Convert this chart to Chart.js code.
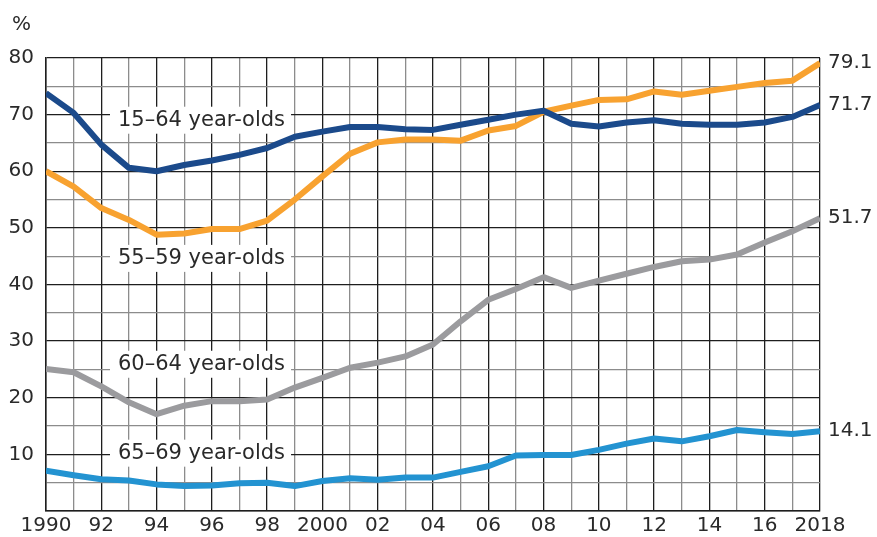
<!DOCTYPE html>
<html>
<head>
<meta charset="utf-8">
<script src="https://cdn.jsdelivr.net/npm/chart.js@4/dist/chart.umd.min.js"></script>
<style>
  html, body { margin: 0; padding: 0; background: #fff; }
  #wrap { width: 877px; height: 537px; position: relative; }
</style>
</head>
<body>
<div id="wrap"><canvas id="chart"></canvas></div>
<script>
// Employment rates by age group, 1990-2018 (%)
const years = [1990, 1991, 1992, 1993, 1994, 1995, 1996, 1997, 1998, 1999,
    2000, 2001, 2002, 2003, 2004, 2005, 2006, 2007, 2008, 2009,
    2010, 2011, 2012, 2013, 2014, 2015, 2016, 2017, 2018];

const age15to64 = [73.8, 70.3, 64.7, 60.6, 60.0, 61.1, 61.9, 62.9, 64.1, 66.1,
    67.0, 67.8, 67.8, 67.4, 67.3, 68.2, 69.1, 70.0, 70.7, 68.4,
    67.9, 68.6, 69.0, 68.4, 68.2, 68.2, 68.6, 69.6, 71.7];

const age55to59 = [60.0, 57.3, 53.5, 51.4, 48.8, 49.0, 49.8, 49.8, 51.3, 55.0,
    59.1, 63.1, 65.1, 65.6, 65.6, 65.4, 67.2, 68.0, 70.5, 71.6,
    72.6, 72.7, 74.1, 73.5, 74.2, 74.9, 75.6, 76.0, 79.1];

const age60to64 = [25.1, 24.5, 22.0, 19.2, 17.1, 18.6, 19.4, 19.4, 19.7, 21.8,
    23.5, 25.3, 26.2, 27.3, 29.4, 33.5, 37.3, 39.2, 41.3, 39.4,
    40.7, 41.9, 43.1, 44.1, 44.4, 45.3, 47.4, 49.4, 51.7];

const age65to69 = [7.1, 6.3, 5.6, 5.4, 4.7, 4.4, 4.5, 4.9, 5.0, 4.4,
    5.3, 5.8, 5.5, 5.9, 5.9, 6.9, 7.9, 9.8, 9.9, 9.9,
    10.8, 11.9, 12.8, 12.3, 13.2, 14.3, 13.9, 13.6, 14.1];

const seriesNames = ['15\u201364 year-olds', '55\u201359 year-olds', '60\u201364 year-olds', '65\u201369 year-olds'];
const xTickLabels = {1990: '1990', 1992: '92', 1994: '94', 1996: '96', 1998: '98', 2000: '2000',
    2002: '02', 2004: '04', 2006: '06', 2008: '08', 2010: '10', 2012: '12', 2014: '14', 2016: '16', 2018: '2018'};
const yTickLabels = [10, 20, 30, 40, 50, 60, 70, 80];

const FONT = '"DejaVu Sans", "Noto Sans", sans-serif';
const TEXT = '#2a2a2a';
const colors = ['#1b4a8b', '#f8a230', '#9b9b9e', '#2393d1'];

const toPoints = arr => arr.map((v, i) => ({ x: years[i], y: v }));

// name labels inside the plot (anchor x year, y value), and end value labels
const annotations = {
    id: 'annotations',
    beforeDatasetsDraw(chart) {
        const { ctx, scales: { x, y } } = chart;
        const spots = [
            { name: seriesNames[0], yv: 69.1 },
            { name: seriesNames[1], yv: 44.7 },
            { name: seriesNames[2], yv: 26.0 },
            { name: seriesNames[3], yv: 10.3 }
        ];
        ctx.save();
        ctx.font = '21px ' + FONT;
        ctx.textBaseline = 'middle';
        spots.forEach(s => {
            const px = x.getPixelForValue(1990) + 72;
            const py = y.getPixelForValue(s.yv);
            const w = ctx.measureText(s.name).width;
            ctx.fillStyle = '#fff';
            ctx.fillRect(px - 8, py - 13, w + 14, 27);
            ctx.fillStyle = TEXT;
            ctx.fillText(s.name, px, py + 1);
        });
        ctx.restore();
    },
    afterDraw(chart) {
        const { ctx, scales: { x, y } } = chart;
        ctx.save();
        ctx.font = '20px ' + FONT;
        ctx.fillStyle = TEXT;
        ctx.textBaseline = 'middle';
        [age55to59, age15to64, age60to64, age65to69].forEach(arr => {
            const v = arr[arr.length - 1];
            ctx.fillText(v.toFixed(1), x.right + 8, y.getPixelForValue(v));
        });
        ctx.fillText('%', 12, 25);
        ctx.restore();
    }
};

const ctx = document.getElementById('chart').getContext('2d');
new Chart(ctx, {
    type: 'line',
    data: {
        datasets: [
            { label: seriesNames[0], data: toPoints(age15to64), borderColor: colors[0] },
            { label: seriesNames[1], data: toPoints(age55to59), borderColor: colors[1] },
            { label: seriesNames[2], data: toPoints(age60to64), borderColor: colors[2] },
            { label: seriesNames[3], data: toPoints(age65to69), borderColor: colors[3] }
        ]
    },
    options: {
        responsive: true,
        maintainAspectRatio: false,
        animation: false,
        layout: { padding: { top: 58, right: 57, left: 0, bottom: 0 } },
        elements: {
            line: { borderWidth: 6, tension: 0, borderJoinStyle: 'round', borderCapStyle: 'butt' },
            point: { radius: 0, hoverRadius: 0 }
        },
        plugins: {
            legend: { display: false },
            tooltip: { enabled: false }
        },
        scales: {
            x: {
                type: 'linear',
                min: 1990,
                max: 2018,
                afterFit: s => { s.height = 26; },
                afterBuildTicks: s => { s.ticks = years.map(v => ({ value: v })); },
                ticks: {
                    autoSkip: false,
                    maxRotation: 0,
                    padding: 3,
                    color: TEXT,
                    font: { family: FONT, size: 20 },
                    callback: v => xTickLabels[v] || ''
                },
                grid: {
                    drawTicks: false,
                    lineWidth: 1.3,
                    color: c => (c.tick && c.tick.value % 2 === 0) ? '#1e1e1e' : '#8c8c8c'
                },
                border: { display: true, color: '#1e1e1e', width: 1.5 }
            },
            y: {
                min: 0,
                max: 80,
                afterFit: s => { s.width = 46; },
                ticks: {
                    stepSize: 5,
                    padding: 12,
                    color: TEXT,
                    font: { family: FONT, size: 20 },
                    callback: v => yTickLabels.includes(v) ? String(v) : ''
                },
                grid: {
                    drawTicks: false,
                    lineWidth: 1.3,
                    color: c => (c.tick && c.tick.value % 10 === 0) ? '#1e1e1e' : '#8c8c8c'
                },
                border: { display: true, color: '#1e1e1e', width: 1.5 }
            }
        }
    },
    plugins: [annotations]
});
</script>
</body>
</html>
